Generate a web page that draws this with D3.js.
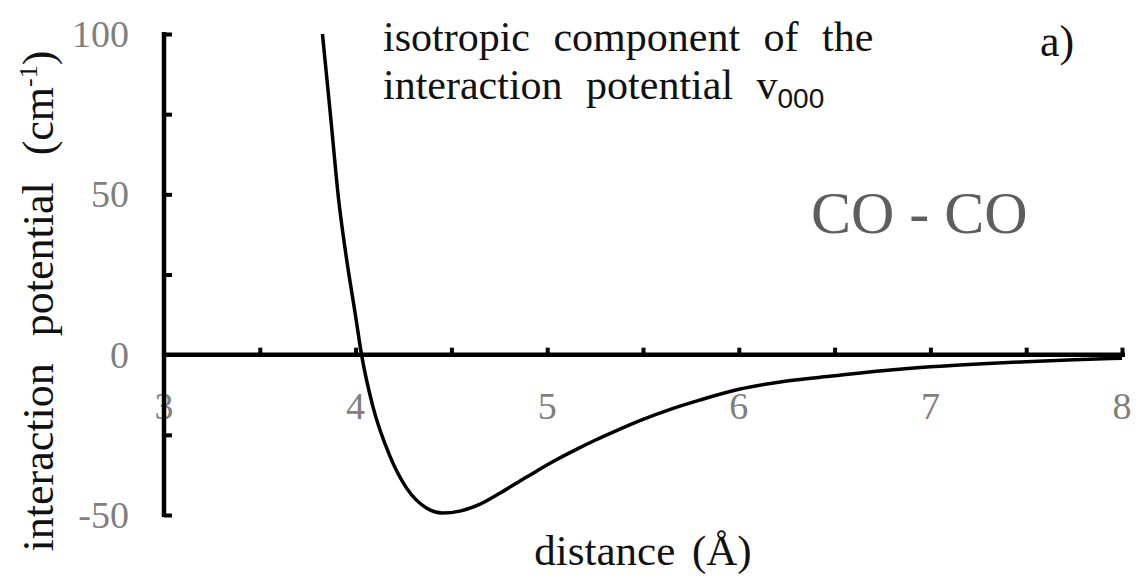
<!DOCTYPE html>
<html>
<head>
<meta charset="utf-8">
<script src="https://cdn.jsdelivr.net/npm/d3@7"></script>
<style>
  html, body { margin: 0; padding: 0; background: #fff; }
  svg { display: block; font-family: "Liberation Serif", "Times New Roman", serif; }
</style>
</head>
<body>
<svg id="chart" width="1136" height="578"></svg>
<script>
// Isotropic component v000 of the CO-CO interaction potential
const distance = [3.827, 3.87, 3.911, 3.95, 4.0, 4.031, 4.089, 4.178, 4.267, 4.372, 4.45,
                  4.55, 4.65, 4.75, 4.85, 4.95, 5.05, 5.15, 5.25, 5.35, 5.5, 5.65, 5.8,
                  6.0, 6.25, 6.5, 6.75, 7.0, 7.25, 7.5, 7.75, 8.0];
const potential = [100, 74, 48.6, 31, 12, 0, -15.9, -31.5, -41.7, -47.9, -49.4,
                   -48.7, -46.6, -43.3, -39.7, -36.1, -32.7, -29.6, -26.7, -24.0, -20.2, -16.9, -14.1,
                   -10.8, -8.2, -6.6, -5.0, -3.8, -2.9, -2.2, -1.6, -1.1];

const xTickLabels = [3, 4, 5, 6, 7, 8];
const xMinorTicks = [3.5, 4, 4.5, 5, 5.5, 6, 6.5, 7, 7.5, 8];
const yTickLabels = [100, 50, 0, -50];
const yMinorTicks = [100, 75, 50, 25, -25, -50];

const svg = d3.select("#chart");

const x = d3.scaleLinear().domain([3, 8]).range([164, 1122]);
const y = d3.scaleLinear().domain([-50, 100]).range([515, 34]);

// Tick labels (grey), drawn first so the axis lines sit on top
svg.append("g")
  .selectAll("text")
  .data(xTickLabels)
  .join("text")
  .attr("x", d => x(d))
  .attr("y", y(0) + 64)
  .attr("text-anchor", "middle")
  .attr("font-size", 38)
  .attr("fill", "#7f7f7f")
  .text(d => d);

svg.append("g")
  .selectAll("text")
  .data(yTickLabels)
  .join("text")
  .attr("x", 129)
  .attr("y", d => y(d) + 13)
  .attr("text-anchor", "end")
  .attr("font-size", 38)
  .attr("fill", "#7f7f7f")
  .text(d => d);

// Horizontal axis along V = 0 with ticks pointing up
const xAxis = d3.axisTop(x)
  .tickValues(xMinorTicks)
  .tickSize(7)
  .tickSizeOuter(0)
  .tickFormat("");
const gx = svg.append("g")
  .attr("transform", `translate(0,${y(0)})`)
  .call(xAxis);
gx.select(".domain").attr("stroke", "#000").attr("stroke-width", 4.5)
  .attr("d", `M${x(3)},0H${x(8) + 3}`);
gx.selectAll(".tick line").attr("stroke", "#000").attr("stroke-width", 4);

// Vertical axis at r = 3 with ticks pointing right
const yAxis = d3.axisRight(y)
  .tickValues(yMinorTicks)
  .tickSize(8)
  .tickSizeOuter(0)
  .tickFormat("");
const gy = svg.append("g")
  .attr("transform", `translate(${x(3)},0)`)
  .call(yAxis);
gy.select(".domain").attr("stroke", "#000").attr("stroke-width", 4.5)
  .attr("d", `M0,${y(100) - 2}V${y(-50) + 2}`);
gy.selectAll(".tick line").attr("stroke", "#000").attr("stroke-width", 4);

// Potential curve
const line = d3.line()
  .x((d, i) => x(distance[i]))
  .y(d => y(d))
  .curve(d3.curveMonotoneX);

svg.append("path")
  .attr("d", line(potential))
  .attr("fill", "none")
  .attr("stroke", "#000")
  .attr("stroke-width", 3.5)
  .attr("stroke-linejoin", "round");

// Axis titles
svg.append("text")
  .attr("x", 643)
  .attr("y", 565)
  .attr("text-anchor", "middle")
  .attr("font-size", 43)
  .attr("word-spacing", 6)
  .attr("fill", "#111")
  .text("distance (Å)");

const yTitle = svg.append("text")
  .attr("transform", "translate(53,301) rotate(-90)")
  .attr("text-anchor", "middle")
  .attr("font-size", 44)
  .attr("word-spacing", 16)
  .attr("fill", "#111");
yTitle.append("tspan").text("interaction potential (cm");
yTitle.append("tspan").attr("font-size", 26).attr("dy", -16).text("-1");
yTitle.append("tspan").attr("dy", 16).text(")");

// Annotations
svg.append("text")
  .attr("x", 383)
  .attr("y", 51)
  .attr("font-size", 42)
  .attr("word-spacing", 13)
  .attr("fill", "#111")
  .text("isotropic component of the");

const sub = svg.append("text")
  .attr("x", 383)
  .attr("y", 99)
  .attr("font-size", 42)
  .attr("word-spacing", 13)
  .attr("fill", "#111");
sub.append("tspan").text("interaction potential v");
sub.append("tspan").attr("font-size", 28).attr("font-family", "Liberation Sans, Arial, sans-serif")
  .attr("dy", 9).text("000");

svg.append("text")
  .attr("x", 1040)
  .attr("y", 56)
  .attr("font-size", 44)
  .attr("fill", "#111")
  .text("a)");

svg.append("text")
  .attr("x", 811)
  .attr("y", 233)
  .attr("font-size", 60)
  .attr("fill", "#5e5e5e")
  .text("CO - CO");
</script>
</body>
</html>
